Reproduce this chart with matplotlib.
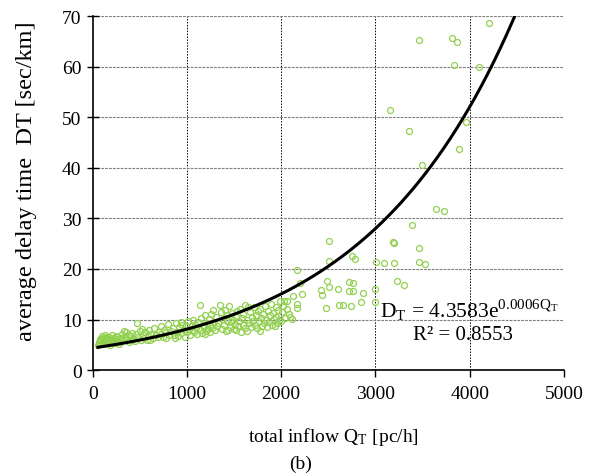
import numpy as np
import matplotlib.pyplot as plt

plt.rcParams['font.family'] = ['Liberation Serif', 'DejaVu Serif']
plt.rcParams['mathtext.fontset'] = 'stix'

# total inflow Q_T [pc/h] and average delay time D_T [sec/km]
q_low = [55, 65, 70, 75, 80, 90, 95, 100, 110, 120, 125, 130, 135, 140, 150, 155, 160, 170,
         180, 185, 190, 200, 210, 215, 220, 230, 240, 245, 250, 260, 270, 275, 280, 290, 300]
d_low = [4.9, 5.2, 5.6, 5.9, 6.2, 5.3, 6.4, 6.8, 5.8, 5.1, 5.7, 6.4, 6.9, 5.6, 6.0, 6.5, 5.3, 6.6,
         5.7, 5.0, 6.2, 5.5, 6.9, 5.6, 5.9, 6.3, 5.4, 6.7, 6.1, 5.8, 6.6, 5.5, 5.2, 6.0, 6.4]

q_mid = [310, 320, 335, 340, 350, 360, 380, 390, 400, 415, 420, 430, 450, 460, 475, 480, 500,
         510, 525, 530, 545, 560, 575, 590, 600, 610, 620, 640, 650, 670, 690, 700,
         720, 730, 750, 760, 775, 780, 800, 810, 830, 850, 860, 870, 880, 890, 910, 920,
         935, 940, 950, 965, 980, 990, 1000]
d_mid = [7.2, 5.9, 7.8, 6.6, 7.6, 6.1, 7.0, 5.6, 6.8, 6.0, 7.4, 6.2, 5.8, 7.1, 9.4, 6.5, 7.8,
         6.0, 8.2, 7.0, 6.4, 7.5, 5.9, 6.8, 8.0, 6.0, 7.2, 6.3, 8.4, 7.0, 6.6, 7.6,
         8.8, 7.2, 6.5, 8.0, 6.4, 7.5, 9.1, 6.9, 7.8, 8.4, 7.0, 6.3, 9.3, 7.6, 6.8, 8.6,
         9.5, 7.3, 9.0, 8.0, 6.5, 8.8, 7.5]

q_high = [1010, 1020, 1030, 1050, 1060, 1065, 1080, 1090, 1100, 1110, 1120, 1139, 1140, 1150,
          1160, 1170, 1180, 1190, 1195, 1200, 1210, 1220, 1230, 1240, 1250, 1260, 1270, 1280,
          1290, 1300, 1310, 1320, 1330, 1351, 1360, 1370, 1380, 1390, 1400, 1410, 1420, 1430,
          1440, 1450, 1460, 1470, 1480, 1490, 1500, 1510, 1520, 1525, 1530, 1540, 1550, 1560,
          1570, 1580, 1590, 1600, 1616, 1620, 1633, 1640, 1650, 1660, 1670, 1680, 1690, 1700,
          1710, 1720, 1730, 1740, 1750, 1760, 1775, 1780, 1790, 1800, 1810, 1820, 1830, 1840,
          1850, 1860, 1870, 1880, 1890, 1900, 1910, 1920, 1930, 1940, 1950, 1960, 1970, 1980,
          1990, 2000]
d_high = [9.8, 8.2, 7.0, 8.8, 10.0, 7.9, 7.6, 9.2, 8.4, 7.2, 9.6, 12.8, 8.0, 10.3,
          7.4, 9.0, 8.6, 10.8, 7.1, 7.8, 9.4, 8.2, 10.1, 7.5, 9.0, 11.0, 8.4, 11.9,
          9.6, 8.0, 10.6, 8.8, 9.4, 12.8, 11.4, 8.2, 10.2, 9.0, 11.8, 7.8, 9.8, 10.8,
          8.0, 12.6, 8.6, 9.6, 11.2, 10.0, 8.2, 9.2, 10.6, 7.9, 11.6, 8.8, 9.8, 12.0,
          7.6, 10.4, 9.0, 11.0, 12.8, 8.4, 7.8, 10.0, 12.4, 9.4, 11.4, 8.6, 10.6, 9.8,
          12.4, 9.0, 10.8, 8.4, 11.6, 9.8, 7.8, 12.0, 10.4, 8.8, 11.0, 9.4, 12.6, 10.0,
          8.6, 11.6, 9.6, 10.8, 13.0, 9.0, 11.2, 10.2, 8.8, 12.4, 10.6, 9.4, 11.8, 10.0,
          13.7, 9.8]

q_sat = [2010, 2020, 2030, 2040, 2058, 2060, 2080, 2093, 2110, 2122, 2164, 2164, 2171, 2203,
         2220, 2418, 2429, 2471, 2482, 2503, 2503, 2507, 2602, 2616, 2658, 2719, 2719, 2740,
         2754, 2761, 2764, 2782, 2849, 2867, 2997, 2997, 3005, 3093, 3188, 3196, 3199, 3224,
         3298, 3393, 3464, 3467, 3524, 3644, 3725, 3153, 3354, 3489, 3884, 3958, 3839, 4100,
         3464, 3814, 3863, 4210]
d_sat = [11.4, 12.6, 13.7, 10.3, 13.6, 12.0, 11.0, 10.5, 10.2, 14.6, 13.1, 19.7, 12.3, 17.2,
         15.0, 15.8, 14.8, 12.2, 17.7, 16.5, 25.6, 21.6, 16.0, 12.9, 12.9, 17.5, 15.7, 12.7,
         22.6, 15.7, 17.2, 21.9, 13.5, 15.2, 16.0, 13.5, 21.3, 21.1, 25.4, 25.1, 21.2, 17.7,
         16.9, 28.7, 21.3, 24.1, 20.9, 31.9, 31.4, 51.4, 47.3, 40.6, 43.7, 49.1, 60.4, 60.0,
         65.3, 65.7, 64.8, 68.7]

qt = q_low + q_mid + q_high + q_sat
dt = d_low + d_mid + d_high + d_sat

# exponential trendline, coefficients
trend_a = 4.3583
trend_b = 0.00062

x_ticks = [0, 1000, 2000, 3000, 4000, 5000]
y_ticks = [0, 10, 20, 30, 40, 50, 60, 70]

fig = plt.figure(figsize=(5.98, 4.77), dpi=100)
ax = fig.add_axes([0.155, 0.222, 0.788, 0.742])

for xv in x_ticks[1:-1]:
    ax.axvline(xv, color='black', linestyle=(0, (1.5, 1.5)), linewidth=0.7, zorder=1)
for yv in y_ticks[1:]:
    ax.axhline(yv, color='#7f7f7f', linestyle=(0, (2.5, 1)), linewidth=0.8, zorder=1)

ax.plot(qt, dt, 'o', markersize=4.3, markerfacecolor='none', markeredgecolor='#92D050',
        markeredgewidth=0.9, zorder=3)

qq = np.linspace(min(qt), 5000, 300)
ax.plot(qq, trend_a * np.exp(trend_b * qq), color='black', linewidth=2.2, zorder=4)

ax.set_xlim(0, 5000)
ax.set_ylim(0, 70)
ax.set_xticks(x_ticks)
ax.set_yticks(y_ticks)
ax.tick_params(axis='x', direction='out', length=5, width=1, labelsize=14, pad=6)
ax.tick_params(axis='y', direction='inout', length=8, width=1, labelsize=14, pad=4)
for side in ['top', 'right']:
    ax.spines[side].set_visible(False)
for side in ['left', 'bottom']:
    ax.spines[side].set_linewidth(1.2)

ax.text(3050, 12.0, r'D$_\mathregular{T}$ = 4.3583e$^{\mathregular{0.0006Q_T}}$', fontsize=15.5,
        ha='left', va='center', zorder=5)
ax.text(3397, 7.1, 'R² = 0.8553', fontsize=15, ha='left', va='center', zorder=5)

fig.text(333 / 598, 1 - 437 / 477, r'total inflow Q$_\mathregular{T}$ [pc/h]', fontsize=14,
         ha='center', va='center')
fig.text(301 / 598, 1 - 464 / 477, '(b)', fontsize=14, ha='center', va='center')
fig.text(27 / 598, 1 - 181 / 477, 'average delay time  DT [sec/km]', fontsize=17.5,
         rotation=90, ha='center', va='center')

fig.savefig('out.png', dpi=100)
